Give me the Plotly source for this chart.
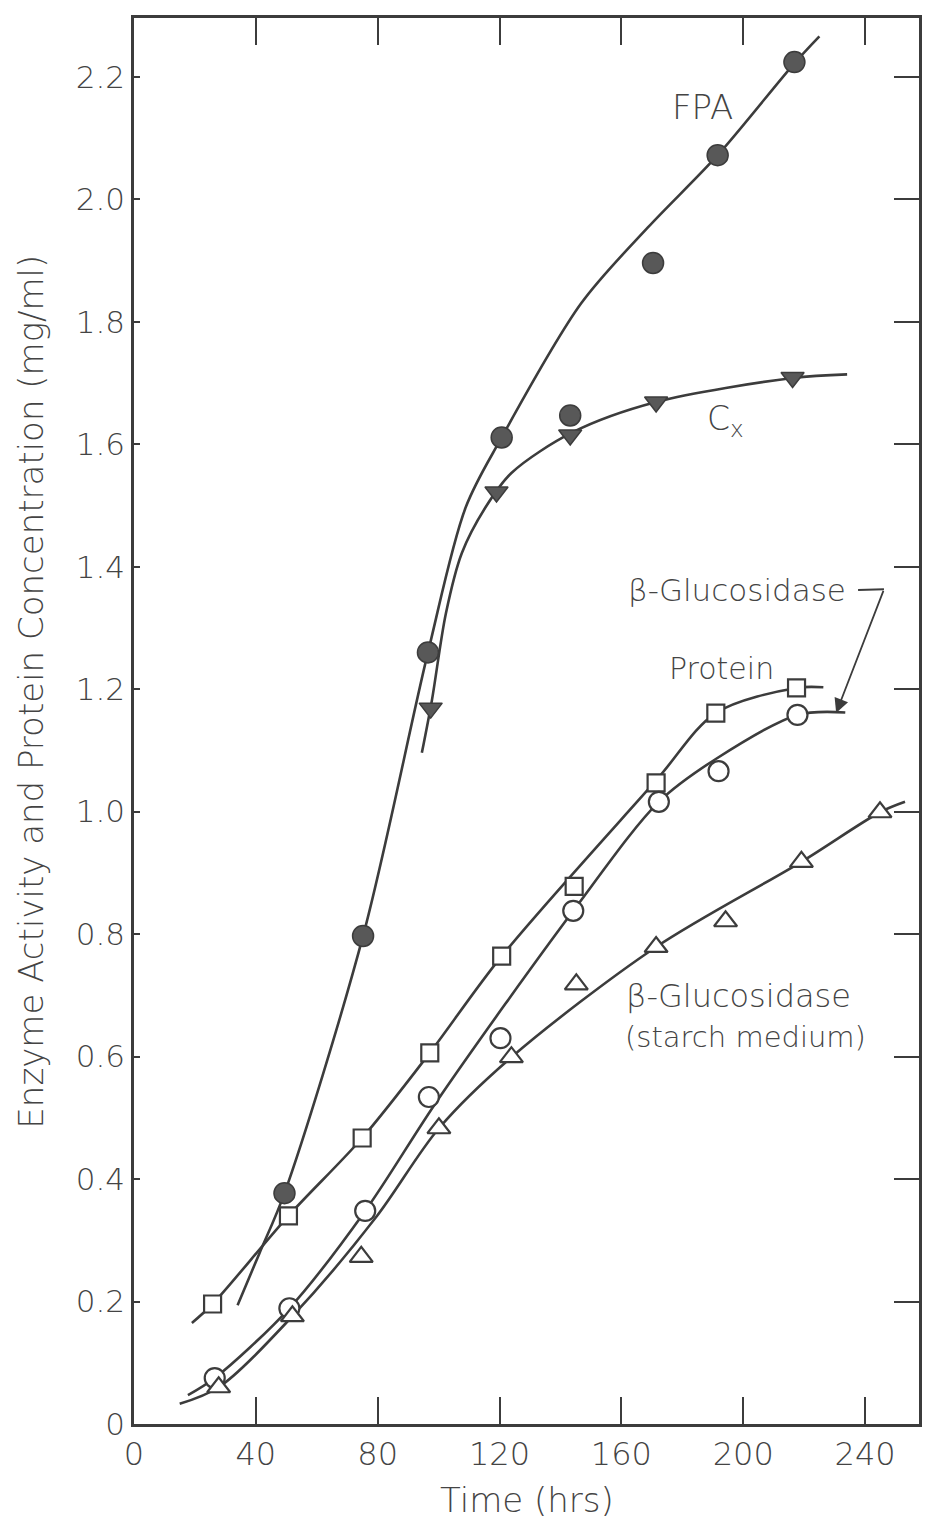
import plotly.graph_objects as go

# ---------------- data ----------------
time_fpa = [49.4, 75.2, 96.5, 120.7, 143.2, 170.4, 191.6, 216.8]
fpa = [0.377, 0.797, 1.260, 1.611, 1.647, 1.896, 2.072, 2.224]

time_cx = [97.4, 119.0, 143.2, 171.4, 216.2]
cx = [1.169, 1.522, 1.615, 1.669, 1.709]

time_protein = [25.8, 50.7, 74.9, 97.1, 120.7, 144.5, 171.4, 191.0, 217.5]
protein = [0.196, 0.340, 0.467, 0.606, 0.764, 0.878, 1.047, 1.161, 1.202]

time_bglu = [26.5, 51.0, 75.9, 96.8, 120.3, 144.2, 172.3, 191.9, 217.8]
bglu = [0.075, 0.189, 0.348, 0.534, 0.630, 0.838, 1.016, 1.066, 1.158]

time_starch = [27.8, 52.0, 74.6, 100.1, 123.9, 145.2, 171.4, 194.2, 219.1, 244.9]
starch = [0.060, 0.176, 0.273, 0.483, 0.599, 0.718, 0.779, 0.821, 0.918, 0.999]

# hand-drawn fitted curves
fpa_curve_t = [34.0, 41.2, 49.4, 75.2, 96.5, 108.9, 120.7, 146.8, 168.7, 191.6, 216.8, 225.0]
fpa_curve_v = [0.194, 0.279, 0.377, 0.797, 1.260, 1.497, 1.611, 1.830, 1.954, 2.072, 2.222, 2.266]

cx_curve_t = [94.5, 97.8, 102.4, 107.6, 115.4, 123.9, 144.2, 171.4, 216.2, 234.1]
cx_curve_v = [1.096, 1.182, 1.324, 1.422, 1.497, 1.553, 1.620, 1.669, 1.708, 1.714]

protein_curve_t = [19.0, 25.8, 50.7, 74.9, 97.1, 120.7, 171.4, 191.0, 217.5, 226.3]
protein_curve_v = [0.165, 0.196, 0.340, 0.467, 0.606, 0.764, 1.051, 1.161, 1.202, 1.203]

bglu_curve_t = [17.7, 26.5, 51.0, 75.9, 100.1, 144.2, 172.3, 191.0, 217.8, 233.5]
bglu_curve_v = [0.047, 0.075, 0.189, 0.348, 0.532, 0.838, 1.016, 1.086, 1.158, 1.162]

starch_curve_t = [15.0, 27.8, 52.0, 79.5, 100.1, 123.9, 171.4, 219.1, 244.9, 253.1]
starch_curve_v = [0.033, 0.060, 0.176, 0.338, 0.483, 0.599, 0.779, 0.918, 0.999, 1.016]

x_ticks = [0, 40, 80, 120, 160, 200, 240]
y_ticks = [0, 0.2, 0.4, 0.6, 0.8, 1.0, 1.2, 1.4, 1.6, 1.8, 2.0, 2.2]
y_ticktext = ["0", "0.2", "0.4", "0.6", "0.8", "1.0", "1.2", "1.4", "1.6", "1.8", "2.0", "2.2"]

# ---------------- styling ----------------
LC = "#3c3c3c"
FONT = "DejaVu Sans"
TXT = "#444444"
W = 300
X_RANGE = [0, 257.7]
Y_RANGE = [0, 2.296]

fig = go.Figure()

line_style = dict(color=LC, width=2.6, shape="spline", smoothing=0.9)
for t, v in [(fpa_curve_t, fpa_curve_v), (cx_curve_t, cx_curve_v),
             (protein_curve_t, protein_curve_v), (bglu_curve_t, bglu_curve_v),
             (starch_curve_t, starch_curve_v)]:
    fig.add_trace(go.Scatter(x=t, y=v, mode="lines", line=line_style,
                             showlegend=False, hoverinfo="skip"))

# markers
fig.add_trace(go.Scatter(x=time_fpa, y=fpa, mode="markers", showlegend=False,
                         marker=dict(symbol="circle", size=21, color="#585858",
                                     line=dict(color=LC, width=1.5))))
fig.add_trace(go.Scatter(x=time_cx, y=cx, mode="markers", showlegend=False,
                         marker=dict(symbol="triangle-down", size=20, color="#585858",
                                     line=dict(color=LC, width=1.5))))
fig.add_trace(go.Scatter(x=time_protein, y=protein, mode="markers", showlegend=False,
                         marker=dict(symbol="square", size=17, color="white",
                                     line=dict(color=LC, width=2.2))))
fig.add_trace(go.Scatter(x=time_bglu, y=bglu, mode="markers", showlegend=False,
                         marker=dict(symbol="circle", size=20, color="white",
                                     line=dict(color=LC, width=2.2))))
fig.add_trace(go.Scatter(x=time_starch, y=starch, mode="markers", showlegend=False,
                         marker=dict(symbol="triangle-up", size=20, color="white",
                                     line=dict(color=LC, width=2.2))))

# dummy trace to carry the mirrored tick axes
fig.add_trace(go.Scatter(x=[None], y=[None], xaxis="x2", yaxis="y2",
                         showlegend=False, hoverinfo="skip"))

# text labels
def label(text, x, y, size=29, xanchor="center"):
    fig.add_annotation(x=x, y=y, xref="x", yref="y", text=text, showarrow=False,
                       xanchor=xanchor, yanchor="middle",
                       font=dict(family=FONT, size=size, color=TXT, weight=W))

label("FPA", 186.7, 2.150, size=34)
label("C<sub>x</sub>", 187.3, 1.638, size=33, xanchor="left")
label("β-Glucosidase", 198.0, 1.362, size=31)
label("Protein", 192.9, 1.234, size=30)
label("β-Glucosidase", 198.5, 0.699, size=32)
label("(starch medium)", 200.8, 0.632, size=29)

# leader for upper β-Glucosidase label
fig.add_shape(type="line", xref="x", yref="y", x0=237.7, y0=1.362, x1=246.2, y1=1.363,
              line=dict(color=LC, width=2))
fig.add_annotation(x=230.5, y=1.161, ax=246.2, ay=1.363, xref="x", yref="y",
                   axref="x", ayref="y", text="", showarrow=True,
                   arrowhead=2, arrowsize=1.6, arrowwidth=1.8, arrowcolor=LC)

# axis titles as annotations for exact placement
fig.add_annotation(x=-0.131, y=0.521, xref="paper", yref="paper",
                   text="Enzyme Activity and Protein Concentration (mg/ml)",
                   textangle=-90, showarrow=False, xanchor="center", yanchor="middle",
                   font=dict(family=FONT, size=34, color=TXT, weight=W))
fig.add_annotation(x=0.50, y=-0.054, xref="paper", yref="paper", text="Time (hrs)",
                   showarrow=False, xanchor="center", yanchor="middle",
                   font=dict(family=FONT, size=34, color=TXT, weight=W))

axis_common = dict(showgrid=False, zeroline=False, tickcolor=LC, tickwidth=2)
fig.update_layout(
    width=932, height=1522,
    margin=dict(l=134, r=10, t=18, b=98),
    paper_bgcolor="white", plot_bgcolor="white",
    font=dict(family=FONT, color=TXT),
    xaxis=dict(range=X_RANGE, tickvals=x_ticks, ticks="inside", ticklen=27,
               showline=True, linecolor=LC, linewidth=2.5, mirror=True,
               tickfont=dict(size=32, family=FONT, color=TXT, weight=W), **axis_common),
    xaxis2=dict(range=X_RANGE, tickvals=x_ticks, ticks="inside", ticklen=27,
                overlaying="x", side="top", showticklabels=False, showline=False,
                anchor="y", **axis_common),
    yaxis=dict(range=Y_RANGE, tickvals=y_ticks, ticktext=y_ticktext, ticks="inside",
               ticklen=6, showline=True, linecolor=LC, linewidth=2.5, mirror=True,
               tickfont=dict(size=31, family=FONT, color=TXT, weight=W), **axis_common),
    yaxis2=dict(range=Y_RANGE, tickvals=y_ticks, ticks="inside", ticklen=25,
                overlaying="y", side="right", showticklabels=False, showline=False,
                anchor="x", **axis_common),
)

fig.write_html("out.html")
